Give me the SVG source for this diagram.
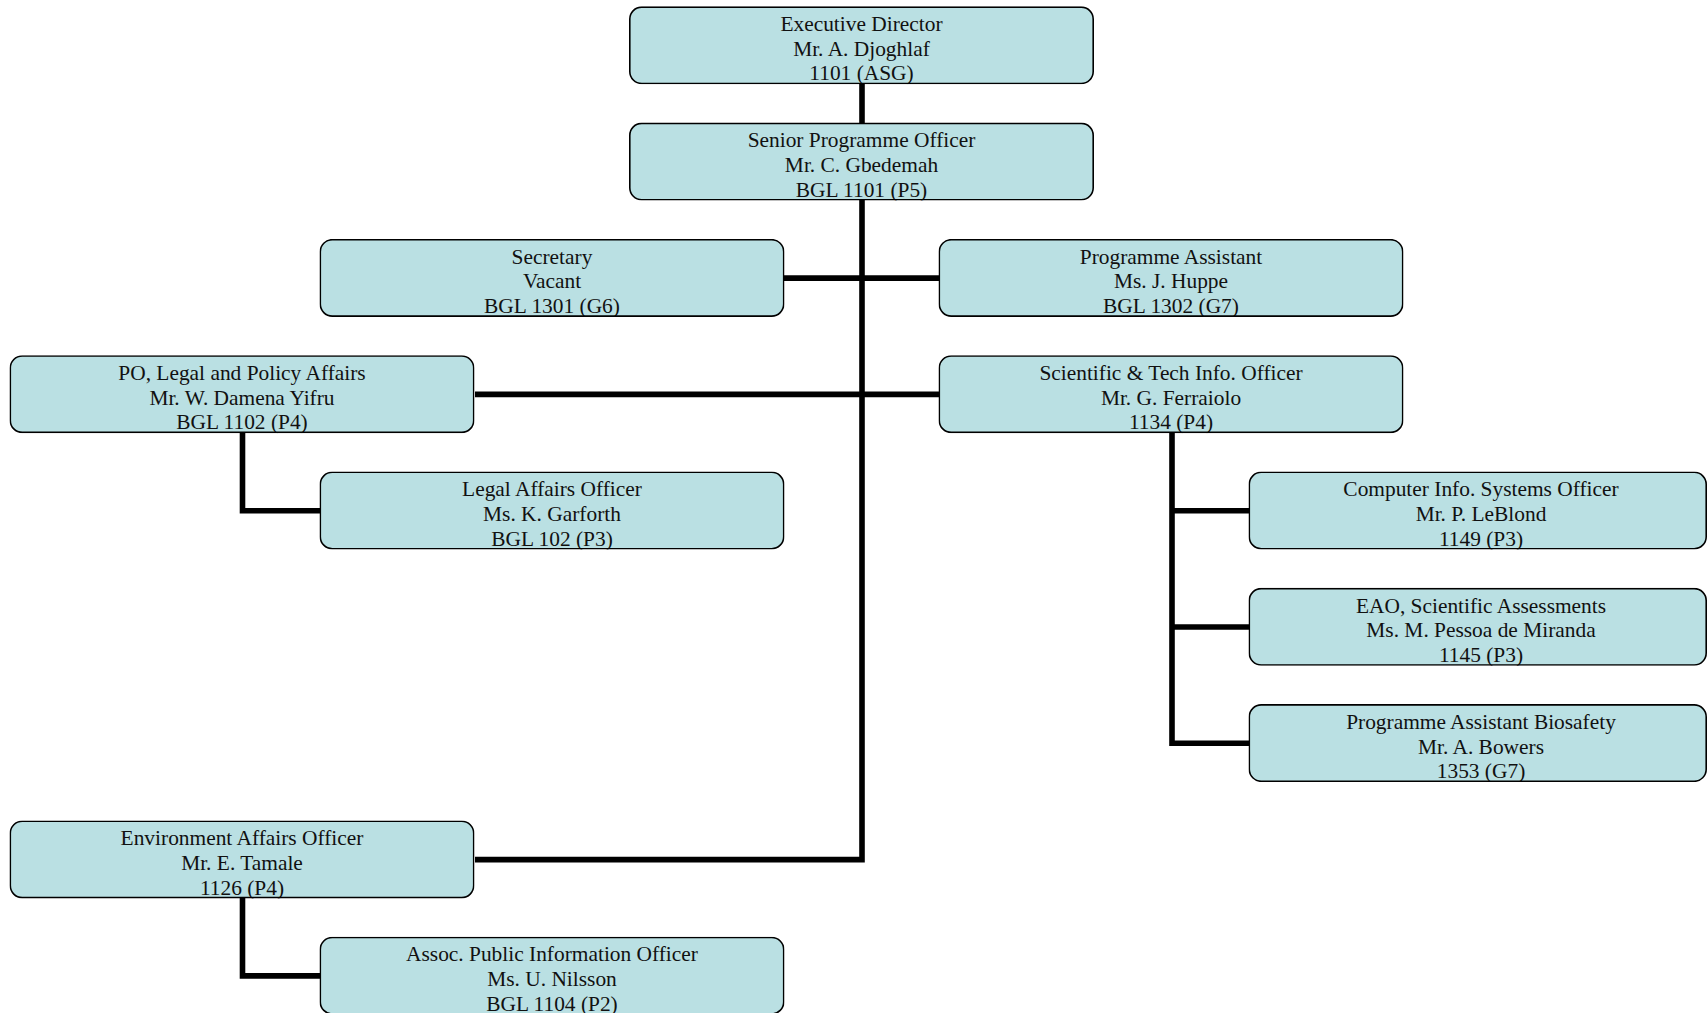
<svg xmlns="http://www.w3.org/2000/svg" width="1707" height="1013" viewBox="0 0 1707 1013">
<style>
.bf{fill:#bae0e3;stroke:none}
.bs{fill:none;stroke:#000;stroke-width:1.6}
.t{font-family:"Liberation Serif","Times New Roman",serif;font-size:21.4px;fill:#111;text-anchor:middle}
.c{fill:none;stroke:#000;stroke-width:5.6;stroke-linejoin:miter;stroke-linecap:butt}
</style>
<rect width="1707" height="1013" fill="#fff"/>
<g id="connectors">
<path class="c" d="M862 83 V123"/>
<path class="c" d="M862 199 V859.6 H475"/>
<path class="c" d="M784 278.1 H939"/>
<path class="c" d="M475 394.4 H939"/>
<path class="c" d="M242.5 432 V510.7 H320"/>
<path class="c" d="M242.5 897 V975.9 H320"/>
<path class="c" d="M1172 432 V743.3 H1249"/>
<path class="c" d="M1172 510.7 H1249"/>
<path class="c" d="M1172 627 H1249"/>
</g>
<g id="n-executive-director"><svg x="629" y="6.3" width="465" height="78"><rect class="bf" x="0.8" y="0.8" width="463.4" height="76.4" rx="12"/><text class="t"><tspan x="232.5" y="24.8">Executive Director</tspan><tspan x="232.5" y="49.5">Mr. A. Djoghlaf</tspan><tspan x="232.5" y="74.2">1101 (ASG)</tspan></text><rect class="bs" x="0.8" y="0.8" width="463.4" height="76.4" rx="12"/></svg></g>
<g id="n-senior-programme-officer"><svg x="629" y="122.6" width="465" height="78"><rect class="bf" x="0.8" y="0.8" width="463.4" height="76.4" rx="12"/><text class="t"><tspan x="232.5" y="24.8">Senior Programme Officer</tspan><tspan x="232.5" y="49.5">Mr. C. Gbedemah</tspan><tspan x="232.5" y="74.2">BGL 1101 (P5)</tspan></text><rect class="bs" x="0.8" y="0.8" width="463.4" height="76.4" rx="12"/></svg></g>
<g id="n-secretary"><svg x="319.5" y="238.9" width="465" height="78"><rect class="bf" x="0.8" y="0.8" width="463.4" height="76.4" rx="12"/><text class="t"><tspan x="232.5" y="24.8">Secretary</tspan><tspan x="232.5" y="49.5">Vacant</tspan><tspan x="232.5" y="74.2">BGL 1301 (G6)</tspan></text><rect class="bs" x="0.8" y="0.8" width="463.4" height="76.4" rx="12"/></svg></g>
<g id="n-programme-assistant"><svg x="938.5" y="238.9" width="465" height="78"><rect class="bf" x="0.8" y="0.8" width="463.4" height="76.4" rx="12"/><text class="t"><tspan x="232.5" y="24.8">Programme Assistant</tspan><tspan x="232.5" y="49.5">Ms. J. Huppe</tspan><tspan x="232.5" y="74.2">BGL 1302 (G7)</tspan></text><rect class="bs" x="0.8" y="0.8" width="463.4" height="76.4" rx="12"/></svg></g>
<g id="n-po-legal-policy"><svg x="9.5" y="355.2" width="465" height="78"><rect class="bf" x="0.8" y="0.8" width="463.4" height="76.4" rx="12"/><text class="t"><tspan x="232.5" y="24.8">PO, Legal and Policy Affairs</tspan><tspan x="232.5" y="49.5">Mr. W. Damena Yifru</tspan><tspan x="232.5" y="74.2">BGL 1102 (P4)</tspan></text><rect class="bs" x="0.8" y="0.8" width="463.4" height="76.4" rx="12"/></svg></g>
<g id="n-scientific-tech-info"><svg x="938.5" y="355.2" width="465" height="78"><rect class="bf" x="0.8" y="0.8" width="463.4" height="76.4" rx="12"/><text class="t"><tspan x="232.5" y="24.8">Scientific &amp; Tech Info. Officer</tspan><tspan x="232.5" y="49.5">Mr. G. Ferraiolo</tspan><tspan x="232.5" y="74.2">1134 (P4)</tspan></text><rect class="bs" x="0.8" y="0.8" width="463.4" height="76.4" rx="12"/></svg></g>
<g id="n-legal-affairs-officer"><svg x="319.5" y="471.5" width="465" height="78"><rect class="bf" x="0.8" y="0.8" width="463.4" height="76.4" rx="12"/><text class="t"><tspan x="232.5" y="24.8">Legal Affairs Officer</tspan><tspan x="232.5" y="49.5">Ms. K. Garforth</tspan><tspan x="232.5" y="74.2">BGL 102 (P3)</tspan></text><rect class="bs" x="0.8" y="0.8" width="463.4" height="76.4" rx="12"/></svg></g>
<g id="n-computer-info-systems"><svg x="1248.5" y="471.5" width="458.5" height="78"><rect class="bf" x="0.8" y="0.8" width="456.9" height="76.4" rx="12"/><text class="t"><tspan x="232.5" y="24.8">Computer Info. Systems Officer</tspan><tspan x="232.5" y="49.5">Mr. P. LeBlond</tspan><tspan x="232.5" y="74.2">1149 (P3)</tspan></text><rect class="bs" x="0.8" y="0.8" width="456.9" height="76.4" rx="12"/></svg></g>
<g id="n-eao-scientific-assessments"><svg x="1248.5" y="587.8" width="458.5" height="78"><rect class="bf" x="0.8" y="0.8" width="456.9" height="76.4" rx="12"/><text class="t"><tspan x="232.5" y="24.8">EAO, Scientific Assessments</tspan><tspan x="232.5" y="49.5">Ms. M. Pessoa de Miranda</tspan><tspan x="232.5" y="74.2">1145 (P3)</tspan></text><rect class="bs" x="0.8" y="0.8" width="456.9" height="76.4" rx="12"/></svg></g>
<g id="n-programme-assistant-biosafety"><svg x="1248.5" y="704.1" width="458.5" height="78"><rect class="bf" x="0.8" y="0.8" width="456.9" height="76.4" rx="12"/><text class="t"><tspan x="232.5" y="24.8">Programme Assistant Biosafety</tspan><tspan x="232.5" y="49.5">Mr. A. Bowers</tspan><tspan x="232.5" y="74.2">1353 (G7)</tspan></text><rect class="bs" x="0.8" y="0.8" width="456.9" height="76.4" rx="12"/></svg></g>
<g id="n-environment-affairs-officer"><svg x="9.5" y="820.4" width="465" height="78"><rect class="bf" x="0.8" y="0.8" width="463.4" height="76.4" rx="12"/><text class="t"><tspan x="232.5" y="24.8">Environment Affairs Officer</tspan><tspan x="232.5" y="49.5">Mr. E. Tamale</tspan><tspan x="232.5" y="74.2">1126 (P4)</tspan></text><rect class="bs" x="0.8" y="0.8" width="463.4" height="76.4" rx="12"/></svg></g>
<g id="n-assoc-public-information"><svg x="319.5" y="936.7" width="465" height="78"><rect class="bf" x="0.8" y="0.8" width="463.4" height="76.4" rx="12"/><text class="t"><tspan x="232.5" y="24.8">Assoc. Public Information Officer</tspan><tspan x="232.5" y="49.5">Ms. U. Nilsson</tspan><tspan x="232.5" y="74.2">BGL 1104 (P2)</tspan></text><rect class="bs" x="0.8" y="0.8" width="463.4" height="76.4" rx="12"/></svg></g>
</svg>
